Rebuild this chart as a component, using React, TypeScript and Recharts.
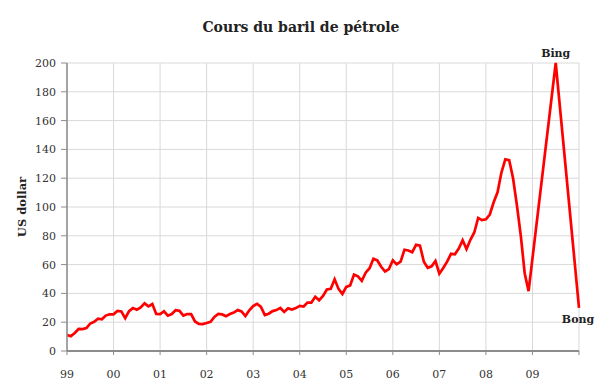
import { CartesianGrid, LabelList, Line, LineChart, XAxis, YAxis } from 'recharts'

// Brent, moyenne mensuelle (US$), janvier 1999 -> décembre 2008
const prices1999 = [11.1, 10.3, 12.5, 15.3, 15.2, 15.9, 19.1, 20.3, 22.5, 22.0, 24.6, 25.5]
const prices2000 = [25.5, 27.8, 27.5, 22.8, 27.7, 29.8, 28.7, 30.2, 33.1, 31.0, 32.6, 25.7]
const prices2001 = [25.6, 27.5, 24.5, 25.7, 28.3, 27.9, 24.6, 25.7, 25.6, 20.5, 18.8, 18.7]
const prices2002 = [19.4, 20.3, 23.7, 25.7, 25.4, 24.1, 25.7, 26.7, 28.4, 27.5, 24.3, 28.3]
const prices2003 = [31.2, 32.8, 30.6, 25.0, 25.9, 27.7, 28.4, 29.9, 27.1, 29.6, 28.8, 29.8]
const prices2004 = [31.3, 30.9, 33.6, 33.6, 37.6, 35.2, 38.2, 42.7, 43.2, 49.8, 43.1, 39.6]
const prices2005 = [44.5, 45.5, 53.1, 51.9, 48.7, 54.4, 57.5, 64.0, 62.9, 58.5, 55.2, 56.9]
const prices2006 = [63.0, 60.2, 62.1, 70.3, 69.8, 68.6, 73.7, 73.2, 62.0, 57.8, 58.8, 62.5]
const prices2007 = [53.7, 57.6, 62.1, 67.5, 67.2, 71.1, 76.9, 70.8, 77.2, 82.3, 92.4, 90.9]
const prices2008 = [91.5, 94.8, 103.3, 110.2, 123.9, 133.1, 132.5, 120.0, 101.0, 80.0, 54.0, 41.6]

// les deux points « fantaisie » de 2009 (mois comptés depuis janvier 1999)
const bingBong = [
  { month: 126, price: 200, note: 'Bing' },
  { month: 132, price: 30, note: 'Bong' },
]

const xTicks = [0, 12, 24, 36, 48, 60, 72, 84, 96, 108, 120, 132]
const yearLabels = ['99', '00', '01', '02', '03', '04', '05', '06', '07', '08', '09', '']
const yTicks = [0, 20, 40, 60, 80, 100, 120, 140, 160, 180, 200]

const monthly = [
  ...prices1999, ...prices2000, ...prices2001, ...prices2002, ...prices2003,
  ...prices2004, ...prices2005, ...prices2006, ...prices2007, ...prices2008,
]
const data: { month: number; price: number; note?: string }[] = [
  ...monthly.map((price, month) => ({ month, price })),
  ...bingBong,
]

const FONT = '"DejaVu Serif", "Liberation Serif", serif'

function renderNote(props: any) {
  const { x, y, value } = props
  if (!value) return null
  const above = value === 'Bing'
  return (
    <text
      x={above ? x : x - 1}
      y={above ? y - 6 : y + 15}
      textAnchor="middle"
      fontFamily={FONT}
      fontSize={11}
      fontWeight="bold"
      fill="#222"
    >
      {value}
    </text>
  )
}

export default function App() {
  return (
    <div style={{ position: 'absolute', left: 0, top: 0, width: 599, height: 390, background: '#fff' }}>
      <style>{`.recharts-wrapper text { font-family: ${FONT}; }`}</style>
      <div
        style={{
          position: 'absolute',
          left: 0,
          top: 19,
          width: 602,
          textAlign: 'center',
          fontFamily: FONT,
          fontWeight: 'bold',
          fontSize: 14,
          color: '#222',
        }}
      >
        Cours du baril de pétrole
      </div>
      <LineChart
        width={599}
        height={390}
        data={data}
        margin={{ top: 63, right: 20, bottom: 8, left: 0 }}
        style={{ fontFamily: FONT }}
      >
        <CartesianGrid stroke="#d9d9d9" />
        <XAxis
          type="number"
          dataKey="month"
          domain={[0, 132]}
          ticks={xTicks}
          tickFormatter={(v: number) => yearLabels[v / 12] ?? ''}
          height={31}
          tickSize={4}
          tickMargin={15}
          axisLine={{ stroke: '#8c8c8c', strokeWidth: 2 }}
          tickLine={{ stroke: '#8c8c8c' }}
          tick={{ fill: '#333', fontSize: 11, fontFamily: FONT }}
        />
        <YAxis
          domain={[0, 200]}
          ticks={yTicks}
          width={67}
          tickSize={6}
          tickMargin={5}
          axisLine={{ stroke: '#8c8c8c', strokeWidth: 1.5 }}
          tickLine={{ stroke: '#8c8c8c' }}
          tick={{ fill: '#333', fontSize: 11, fontFamily: FONT }}
          label={{
            value: 'US dollar',
            angle: -90,
            position: 'insideLeft',
            offset: 22,
            style: { textAnchor: 'middle', fontWeight: 'bold', fontSize: 11.5, fill: '#222', fontFamily: FONT },
          }}
        />
        <Line
          type="linear"
          dataKey="price"
          stroke="#ff0000"
          strokeWidth={2.7}
          dot={false}
          isAnimationActive={false}
        >
          <LabelList dataKey="note" content={renderNote} />
        </Line>
      </LineChart>
    </div>
  )
}
